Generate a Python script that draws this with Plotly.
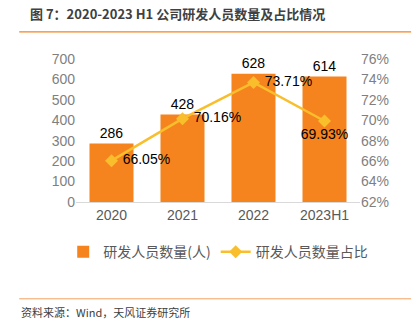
import plotly.graph_objects as go

# R&D headcount and its share of total staff
categories = ["2020", "2021", "2022", "2023H1"]
staff_count = [286, 428, 628, 614]
staff_share = [66.05, 70.16, 73.71, 69.93]
share_text_pos = ["middle right", "middle right", "middle right", "bottom center"]

BAR_COLOR = "#F5841F"
LINE_COLOR = "#F9BE2C"
TICK_COLOR = "#7F7F7F"
FONT = "Liberation Sans, Arial, Noto Sans CJK SC, sans-serif"
CJK = "Noto Sans CJK SC, Liberation Sans, sans-serif"

share_labels = [
    (" " if pos == "middle right" else "") + f"{v:.2f}%"
    for v, pos in zip(staff_share, share_text_pos)
]

fig = go.Figure()
fig.add_trace(go.Bar(
    x=categories, y=staff_count, name="研发人员数量(人)",
    marker=dict(color=BAR_COLOR, line=dict(width=0)),
    width=0.62,
    text=[str(v) for v in staff_count], textposition="outside",
    textfont=dict(size=14, color="#000000", family=FONT),
    cliponaxis=False,
))
fig.add_trace(go.Scatter(
    x=categories, y=[v / 100 for v in staff_share], name="研发人员数量占比",
    yaxis="y2", mode="lines+markers+text",
    line=dict(color=LINE_COLOR, width=2.5),
    marker=dict(symbol="diamond", size=10, color=LINE_COLOR),
    text=share_labels, textposition=share_text_pos,
    textfont=dict(size=14, color="#000000", family=FONT),
    cliponaxis=False,
))

fig.update_layout(
    width=417, height=322,
    margin=dict(l=76, r=57, t=59, b=120, autoexpand=False),
    paper_bgcolor="white", plot_bgcolor="white",
    font=dict(family=FONT, color=TICK_COLOR),
    showlegend=True,
    legend=dict(orientation="h", x=-0.045, xanchor="left", y=-0.35, yanchor="middle",
                font=dict(size=14, color="#595959", family=CJK),
                itemwidth=30, tracegroupgap=0, bgcolor="rgba(0,0,0,0)"),
    bargap=0.38,
    xaxis=dict(showgrid=False, showline=True, linecolor="#D9D9D9", linewidth=1,
               ticks="", tickfont=dict(size=14, color="#595959")),
    yaxis=dict(range=[0, 700], dtick=100, showgrid=False, zeroline=False,
               showline=False, ticks="", tickfont=dict(size=14, color=TICK_COLOR)),
    yaxis2=dict(range=[0.62, 0.76], dtick=0.02, tickformat=".0%", overlaying="y",
                side="right", showgrid=False, zeroline=False, showline=False,
                ticks="", tickfont=dict(size=14, color=TICK_COLOR)),
    annotations=[
        dict(text="<b>图 7：2020-2023 H1 公司研发人员数量及占比情况</b>",
             xref="paper", yref="paper", x=-0.168, y=1.32,
             xanchor="left", yanchor="middle", showarrow=False,
             font=dict(size=13, color="#404040", family=CJK)),
        dict(text="资料来源：Wind，天风证券研究所",
             xref="paper", yref="paper", x=-0.2, y=-0.77,
             xanchor="left", yanchor="middle", showarrow=False,
             font=dict(size=11, color="#404040", family=CJK)),
    ],
    shapes=[
        dict(type="line", xref="paper", yref="paper", x0=-0.2, x1=1.18,
             y0=1.19, y1=1.19, line=dict(color="#F5841F", width=1.2)),
        dict(type="line", xref="paper", yref="paper", x0=-0.2, x1=1.18,
             y0=-0.677, y1=-0.677, line=dict(color="#F5A15F", width=1)),
    ],
)

fig.write_html("out.html")
